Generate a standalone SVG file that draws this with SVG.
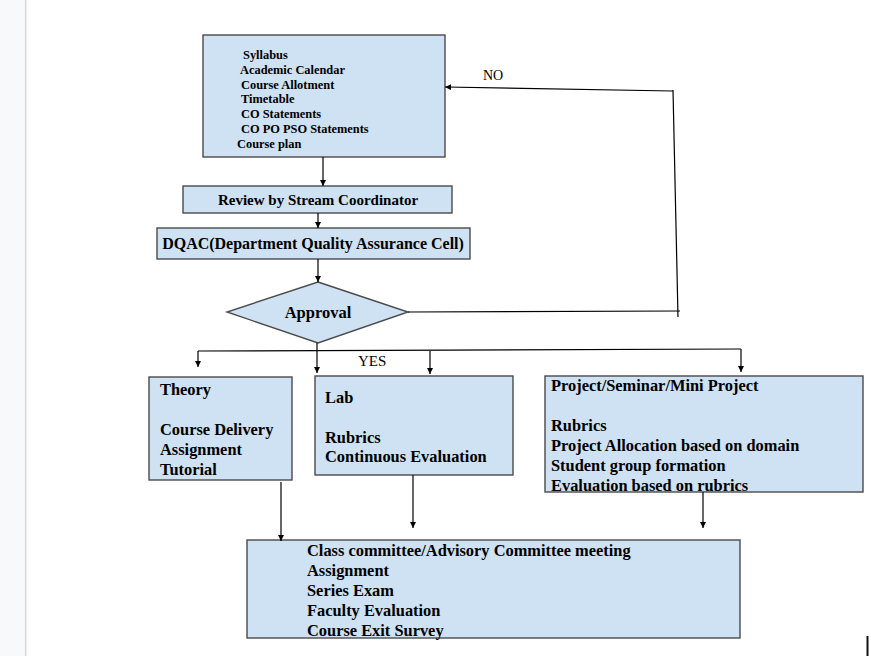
<svg xmlns="http://www.w3.org/2000/svg" width="871" height="656" viewBox="0 0 871 656">
<style>
.box{fill:#cfe2f3;stroke:#4a4a4a;stroke-width:1.4}
.t{font-family:"Liberation Serif","Times New Roman",serif;font-weight:bold;fill:#000}
.s{font-size:12.4px}
.l{font-size:16.4px}
.lab{font-family:"Liberation Serif","Times New Roman",serif;fill:#000}
.c{fill:none;stroke:#000;stroke-width:1.2}
</style>
<defs>
<marker id="ah" viewBox="0 0 10 10" refX="10" refY="5" markerWidth="6" markerHeight="6" markerUnits="userSpaceOnUse" orient="auto">
<path d="M0,0 L10,5 L0,10 z" fill="#000"/>
</marker>
</defs>
<rect x="0" y="0" width="25" height="656" fill="#f8f9fa"/>
<line x1="25.7" y1="0" x2="25.7" y2="656" stroke="#d6d8db" stroke-width="1.5"/>
<g id="inputs">
<rect class="box" x="203" y="35" width="242" height="122"/>
<text class="t s" x="243" y="59">Syllabus</text>
<text class="t s" x="240" y="74">Academic Calendar</text>
<text class="t s" x="241" y="89">Course Allotment</text>
<text class="t s" x="241" y="103">Timetable</text>
<text class="t s" x="241" y="118">CO Statements</text>
<text class="t s" x="241" y="133">CO PO PSO Statements</text>
<text class="t s" x="237" y="148">Course plan</text>
</g>
<g id="review">
<rect class="box" x="183" y="186" width="269" height="27"/>
<text class="t" font-size="15" x="318" y="205" text-anchor="middle">Review by Stream Coordinator</text>
</g>
<g id="dqac">
<rect class="box" x="157" y="228" width="313" height="31"/>
<text class="t" font-size="16" x="313" y="249" text-anchor="middle">DQAC(Department Quality Assurance Cell)</text>
</g>
<g id="approval">
<polygon class="box" points="318,282 408,312 318,343 227,312"/>
<text class="t" font-size="16.5" x="318" y="318" text-anchor="middle">Approval</text>
</g>
<g id="theory">
<rect class="box" x="149" y="377" width="143" height="103"/>
<text class="t l" x="160" y="395">Theory</text>
<text class="t l" x="160" y="435">Course Delivery</text>
<text class="t l" x="160" y="455">Assignment</text>
<text class="t l" x="160" y="475">Tutorial</text>
</g>
<g id="lab">
<rect class="box" x="315" y="376" width="198" height="99"/>
<text class="t l" x="325" y="403">Lab</text>
<text class="t l" x="325" y="443">Rubrics</text>
<text class="t l" x="325" y="462">Continuous Evaluation</text>
</g>
<g id="project">
<rect class="box" x="545" y="376" width="318" height="116"/>
<text class="t l" x="551" y="391">Project/Seminar/Mini Project</text>
<text class="t l" x="551" y="431">Rubrics</text>
<text class="t l" x="551" y="451">Project Allocation based on domain</text>
<text class="t l" x="551" y="471">Student group formation</text>
<text class="t l" x="551" y="491">Evaluation based on rubrics</text>
</g>
<g id="committee">
<rect class="box" x="247" y="540" width="493" height="98"/>
<text class="t l" x="307" y="556">Class committee/Advisory Committee meeting</text>
<text class="t l" x="307" y="576">Assignment</text>
<text class="t l" x="307" y="596">Series Exam</text>
<text class="t l" x="307" y="616">Faculty Evaluation</text>
<text class="t l" x="307" y="636">Course Exit Survey</text>
</g>
<g id="connectors">
<line class="c" x1="323" y1="157" x2="323" y2="186" marker-end="url(#ah)"/>
<line class="c" x1="318" y1="213" x2="318" y2="228" marker-end="url(#ah)"/>
<line class="c" x1="318" y1="259" x2="318" y2="282" marker-end="url(#ah)"/>
<line class="c" x1="408" y1="312" x2="680" y2="311"/>
<line class="c" x1="678" y1="317" x2="673" y2="90"/>
<line class="c" x1="673" y1="91" x2="445" y2="87" marker-end="url(#ah)"/>
<text class="lab" font-size="14" x="483" y="80">NO</text>
<line class="c" x1="198" y1="351" x2="741" y2="349"/>
<line class="c" x1="198" y1="351" x2="198" y2="367" marker-end="url(#ah)"/>
<line class="c" x1="317" y1="343" x2="317" y2="373" marker-end="url(#ah)"/>
<line class="c" x1="430" y1="351" x2="430" y2="374" marker-end="url(#ah)"/>
<line class="c" x1="741" y1="349" x2="741" y2="372" marker-end="url(#ah)"/>
<text class="lab" font-size="15" x="358" y="366">YES</text>
<line class="c" x1="281" y1="482" x2="281" y2="541" marker-end="url(#ah)"/>
<line class="c" x1="413" y1="475" x2="413" y2="528" marker-end="url(#ah)"/>
<line class="c" x1="703" y1="492" x2="703" y2="528" marker-end="url(#ah)"/>
</g>
<line x1="867.5" y1="636" x2="867.5" y2="656" stroke="#111" stroke-width="2"/>
</svg>
